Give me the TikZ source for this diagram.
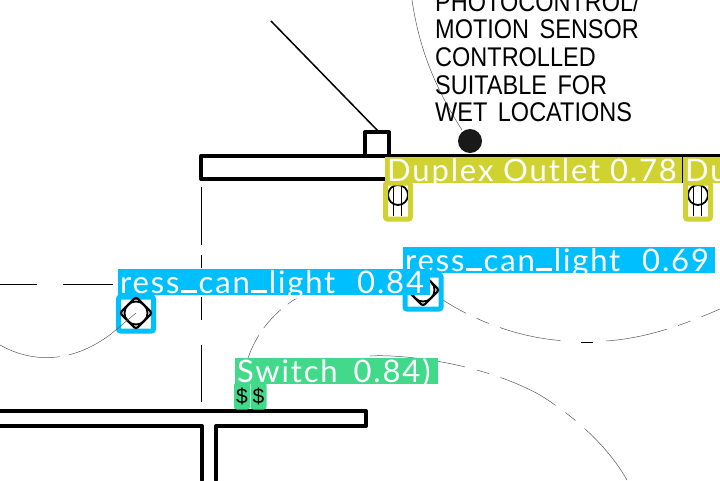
\documentclass[tikz,border=0pt]{standalone}
\usepackage{fontspec}
\usepackage{xcolor}
\usepackage{tikz}
\usetikzlibrary{shapes.geometric}
\setmainfont{Liberation Sans}
\newfontfamily\detfont[LetterSpace=6]{Lato}
\newfontfamily\cadfont[FakeStretch=0.87]{Liberation Sans}
\newcommand{\lowbar}{\hspace{1pt}\rule{16pt}{2.6pt}\hspace{2pt}}
\definecolor{outletC}{HTML}{CFD231}
\definecolor{lightC}{HTML}{00BFFF}
\definecolor{switchC}{HTML}{43D98A}
\begin{document}
\begin{tikzpicture}[x=1pt,y=-1pt,
  wall/.style={line width=4pt,line join=round,line cap=round},
  wire/.style={line width=0.5pt,black!65},
  det/.style={anchor=base west,inner sep=0pt,text=white,font=\fontsize{31}{31}\detfont},
  hit/.style={line width=5pt,rounded corners=2pt},
  can/.style={diamond,draw=black,line width=2.2pt,rounded corners=2.5pt,minimum size=33pt,inner sep=0pt},
  cad/.style={anchor=base west,inner sep=0pt,font=\fontsize{27}{27}\cadfont}]
  \useasboundingbox (0,0) rectangle (720,480);
  \clip (0,0) rectangle (720,480);
  \fill[white] (0,0) rectangle (720,480);
  % walls
  \draw[wall] (720,156) -- (201,156) -- (201,179) -- (386,179);
  \draw[wall] (365,156) -- (365,132) -- (389,132) -- (389,156);
  \draw[wall] (0,411) -- (366,411) -- (366,426) -- (216,426) -- (216,480);
  \draw[wall] (0,426) -- (202,426) -- (202,480);
  \draw[line width=1.5pt] (271,21) -- (378,131);
  % centre lines
  \foreach \a/\b in {187/245,255/268,297/320,345/402}{\draw[line width=0.8pt] (201.5,\a) -- (201.5,\b);}
  \foreach \a/\b in {0/37,63/113}{\draw[line width=0.8pt] (\a,284) -- (\b,284);}
  \draw[line width=1pt] (581,342) -- (593,342);
  % wiring arcs
  \draw[wire,dash pattern=on 62pt off 9pt] (0,345) .. controls (30,362) and (70,365) .. (111,334);
  \draw[wire,dash pattern=on 25pt off 9pt] (248,358) .. controls (257,332) and (275,310) .. (302,295);
  \draw[wire,dash pattern=on 30pt off 12pt on 13pt off 12pt on 62pt off 40pt] (440,298) .. controls (480,325) and (530,340) .. (570,341);
  \draw[wire,dash pattern=on 62pt off 12pt on 13pt off 12pt on 30pt off 40pt] (606,341) .. controls (650,338) and (690,322) .. (720,309);
  \draw[wire,dash pattern=on 96pt off 12pt on 13pt off 12pt on 62pt off 12pt on 13pt off 12pt] (370,356) .. controls (400,354) and (480,362) .. (540,395) .. controls (580,420) and (610,450) .. (627,480);
  \draw[wire] (412,0) .. controls (418,40) and (430,80) .. (462,130);
  % sensor and its note
  \node[circle,fill=black!90,minimum size=24pt,inner sep=0pt] (sensor) at (470,141) {};
  \node[cad] (noteA) at (435,11) {PHOTOCONTROL/};
  \node[cad] (noteB) at (435,38) {MOTION\hspace{4pt} SENSOR};
  \node[cad] (noteC) at (435,66) {CONTROLLED};
  \node[cad] (noteD) at (435,94) {SUITABLE\hspace{4pt} FOR};
  \node[cad] (noteE) at (435,121) {WET\hspace{4pt} LOCATIONS};
  % outlets
  \foreach \n/\x in {A/398,B/698}{
    \draw[line width=1.8pt] (\x,195) circle (10pt);
    \draw[line width=1.6pt] (\x-4.5,184) -- (\x-4.5,216);
    \draw[line width=1.6pt] (\x+3.5,184) -- (\x+3.5,216);
    \node[draw=outletC,hit,minimum width=25pt,minimum height=36pt,inner sep=0pt] (outlet\n) at (\x,201) {};
  }
  % can lights
  \node[draw=lightC,hit,minimum width=36pt,minimum height=34pt,inner sep=0pt] (boxB) at (423,292) {};
  \node[draw=lightC,hit,minimum width=35pt,minimum height=34pt,inner sep=0pt] (boxA) at (136,314) {};
  \foreach \n/\x/\y in {A/136/313,B/423/290}{
    \node[can] (can\n) at (\x,\y) {};
    \node[circle,draw=black,line width=1.8pt,minimum size=23pt,inner sep=0pt] (ring\n) at (can\n) {};
  }
  \draw[wire] (canA.center) -- (111,334);
  % switches
  \foreach \n/\x in {A/242,B/258.5}{
    \node[draw=switchC,fill=switchC,hit,line width=2pt,minimum width=14pt,minimum height=25pt,inner sep=0pt,font=\fontsize{21}{21}\selectfont] (switch\n) at (\x,396) {\$};
  }
  % detection labels
  \fill[outletC] (385,157) rectangle (720,183);
  \draw[line width=0.6pt] (682.5,157) -- (682.5,183);
  \node[det] (labOutletA) at (387,181) {Duplex Outlet 0.78};
  \node[det] (labOutletB) at (685,181) {Du};
  \fill[lightC] (403,247) rectangle (715,273);
  \node[det] (labLightB) at (405,271) {ress\lowbar can\lowbar light\hspace{12pt} 0.69};
  \fill[lightC] (118,269) rectangle (430,295);
  \node[det] (labLightA) at (120,293) {ress\lowbar can\lowbar light\hspace{12pt} 0.84};
  \fill[switchC] (235,358) rectangle (438,384);
  \node[det] (labSwitch) at (237,382) {Switch\hspace{6pt} 0.84\hspace{2pt})};
\end{tikzpicture}
\end{document}
